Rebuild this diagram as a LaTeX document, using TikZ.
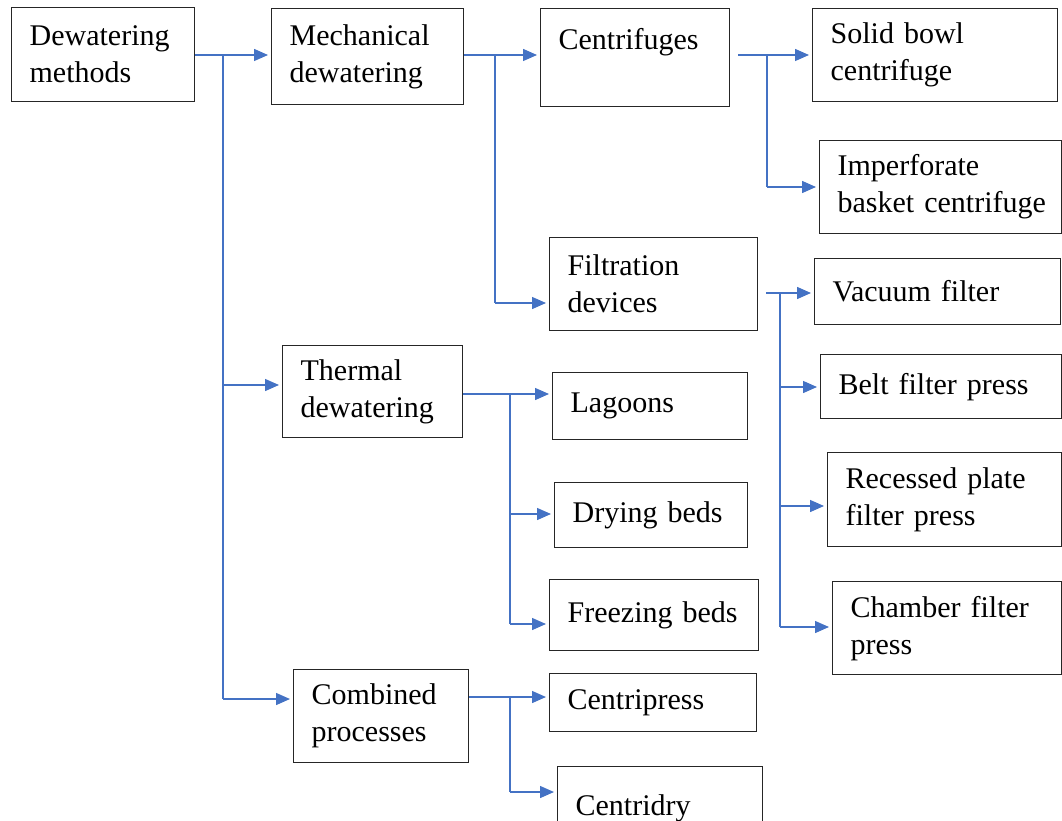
\documentclass[tikz,border=0pt]{standalone}
\usepackage{fontspec}
\setmainfont{Liberation Serif}
\usetikzlibrary{arrows.meta,calc}
\definecolor{linkblue}{HTML}{4472C4}
\definecolor{edge}{HTML}{262626}
\hyphenpenalty=10000
\exhyphenpenalty=10000

\begin{document}
\begin{tikzpicture}[x=1pt,y=-1pt,
  box/.style={draw=edge,line width=1.3pt,anchor=north west,align=left,
    inner xsep=18pt,inner ysep=4pt,
    font=\fontsize{30}{37}\selectfont},
  link/.style={draw=linkblue,line width=1.4pt},
  arr/.style={link,-{Triangle[length=14pt,width=12pt]},shorten >=3pt}]

% box: name, left, top, right, bottom, text
\newcommand\boxnode[6]{%
  \pgfmathsetmacro\bw{#4-#2-36}%
  \pgfmathsetmacro\bh{#5-#3}%
  \node[box,text width=\bw pt,minimum height=\bh pt] (#1) at (#2,#3) {#6};}

\clip (0,0) rectangle (1062,821);

\boxnode{dm}{11}{7}{194}{101}{Dewatering\\methods}
\boxnode{mech}{271}{8}{463}{104}{Mechanical\\dewatering}
\boxnode{cent}{540}{8}{729}{106}{Centrifuges\\\mbox{}}
\boxnode{solid}{812}{8}{1057}{101}{Solid~bowl\\centrifuge}
\boxnode{imp}{819}{140}{1061}{233}{Imperforate\\\mbox{basket centrifuge}}
\boxnode{filt}{549}{237}{757}{330}{Filtration\\devices}
\boxnode{vac}{814}{258}{1060}{324}{Vacuum~filter}
\boxnode{belt}{820}{354}{1061}{418}{Belt~filter~press}
\boxnode{therm}{282}{345}{462}{437}{Thermal\\dewatering}
\boxnode{lag}{552}{372}{747}{439}{Lagoons}
\boxnode{dry}{554}{482}{747}{547}{Drying~beds}
\boxnode{frz}{549}{579}{758}{650}{Freezing~beds}
\boxnode{rec}{827}{452}{1061}{546}{Recessed~plate\\filter~press}
\boxnode{cham}{832}{581}{1061}{674}{Chamber~filter\\press}
\boxnode{comb}{293}{669}{468}{762}{Combined\\processes}
\boxnode{cpress}{549}{673}{756}{731}{Centripress}
\boxnode{cdry}{557}{766}{762}{850}{Centridry}

% trunk positions
\coordinate (tr0) at (223,55);
\coordinate (tr1) at (495,55);
\coordinate (tr2) at (767,55);
\coordinate (tr3) at (780,293);
\coordinate (tr4) at (510,394);
\coordinate (tr5) at (510,697);

% root
\draw[arr] (dm.east |- tr0) -- (mech.west |- tr0);
\draw[link] (tr0) -- (tr0 |- 0,699);
\draw[arr] (tr0 |- 0,385) -- (therm.west |- 0,385);
\draw[arr] (tr0 |- 0,699) -- (comb.west |- 0,699);

% mechanical
\draw[arr] (mech.east |- tr1) -- (cent.west |- tr1);
\draw[link] (tr1) -- (tr1 |- 0,303);
\draw[arr] (tr1 |- 0,303) -- (filt.west |- 0,303);

% centrifuges
\draw[arr,shorten <=8pt] (cent.east |- tr2) -- (solid.west |- tr2);
\draw[link] (tr2) -- (tr2 |- 0,187);
\draw[arr] (tr2 |- 0,187) -- (imp.west |- 0,187);

% filtration devices
\draw[arr,shorten <=8pt] (filt.east |- tr3) -- (vac.west |- tr3);
\draw[link] (tr3) -- (tr3 |- 0,627);
\draw[arr] (tr3 |- 0,387) -- (belt.west |- 0,387);
\draw[arr] (tr3 |- 0,506) -- (rec.west |- 0,506);
\draw[arr] (tr3 |- 0,627) -- (cham.west |- 0,627);

% thermal
\draw[arr] (therm.east |- tr4) -- (lag.west |- tr4);
\draw[link] (tr4) -- (tr4 |- 0,624);
\draw[arr] (tr4 |- 0,514) -- (dry.west |- 0,514);
\draw[arr] (tr4 |- 0,624) -- (frz.west |- 0,624);

% combined
\draw[arr] (comb.east |- tr5) -- (cpress.west |- tr5);
\draw[link] (tr5) -- (tr5 |- 0,792);
\draw[arr] (tr5 |- 0,792) -- (cdry.west |- 0,792);
\end{tikzpicture}
\end{document}
